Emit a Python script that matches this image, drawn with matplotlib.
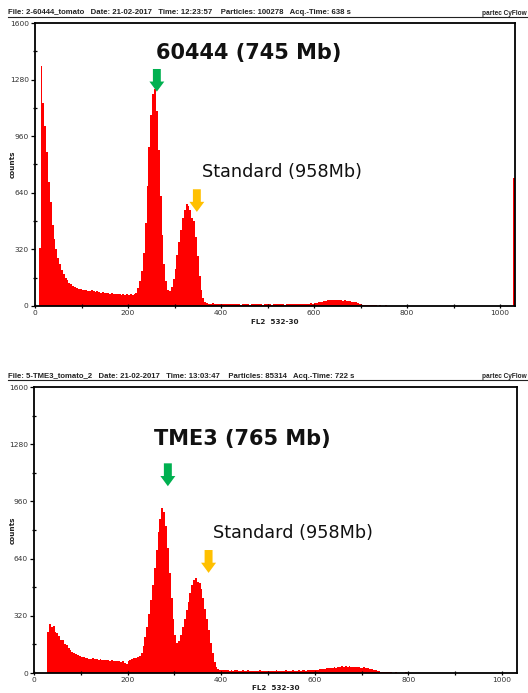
import matplotlib
matplotlib.use("Agg")
import matplotlib.pyplot as plt
from matplotlib.patches import FancyArrow
from matplotlib.lines import Line2D
from matplotlib.ticker import MultipleLocator

# histogram channels, 4 per bin (0..1032)
bin_edges = list(range(0, 1036, 4))

# sample 1: 60444 tomato
top_counts = [
    0, 0, 330, 1357, 1150, 1018, 870, 700, 590, 460, 380, 320, 270, 235, 205, 180,
    160, 145, 132, 122, 115, 108, 102, 98, 95, 90, 88, 92, 85, 84, 88, 82,
    80, 83, 78, 76, 79, 74, 72, 76, 70, 73, 68, 70, 66, 69, 64, 67,
    63, 66, 62, 68, 65, 70, 75, 100, 140, 200, 300, 470, 680, 900, 1080, 1200,
    1225, 1100, 880, 620, 400, 240, 140, 90, 82, 105, 150, 210, 290, 360, 430, 495,
    545, 577, 565, 540, 500, 480, 390, 280, 170, 90, 45, 25, 18, 14, 12, 15,
    11, 13, 10, 12, 14, 9, 11, 12, 10, 13, 9, 11, 10, 12, 8, 11,
    10, 9, 12, 8, 10, 11, 9, 10, 12, 9, 8, 11, 10, 9, 11, 8,
    10, 9, 11, 12, 9, 10, 8, 11, 12, 10, 9, 11, 13, 10, 12, 11,
    13, 12, 14, 12, 15, 13, 16, 18, 20, 22, 25, 28, 30, 32, 34, 33,
    35, 32, 36, 33, 35, 31, 33, 29, 30, 26, 24, 22, 20, 17, 14, 10,
    8, 6, 5, 4, 5, 3, 4, 3, 2, 3, 2, 2, 3, 1, 2, 1,
    2, 1, 1, 0, 1, 0, 0, 0, 0, 0, 0, 0, 0, 0, 0, 0,
    0, 0, 0, 0, 0, 0, 0, 0, 0, 0, 0, 0, 0, 0, 0, 0,
    0, 0, 0, 0, 0, 0, 0, 0, 0, 0, 0, 0, 0, 0, 0, 0,
    0, 0, 0, 0, 0, 0, 0, 0, 0, 0, 0, 0, 0, 0, 0, 0,
    0, 725,
]

# sample 2: TME3 tomato
bottom_counts = [
    0, 0, 0, 0, 0, 0, 0, 231, 274, 259, 262, 232, 222, 205, 187, 185,
    165, 156, 141, 128, 119, 110, 104, 101, 95, 91, 88, 85, 82, 80, 78, 84,
    76, 79, 75, 77, 73, 75, 71, 74, 68, 70, 66, 69, 65, 67, 63, 66,
    58, 52, 68, 74, 80, 86, 84, 90, 95, 110, 150, 200, 260, 330, 410, 490,
    590, 690, 790, 860, 921, 900, 820, 700, 560, 420, 300, 210, 170, 180, 215, 255,
    300, 350, 400, 450, 495, 520, 530, 510, 505, 470, 420, 360, 300, 240, 170, 110,
    60, 35, 22, 18, 15, 17, 14, 16, 13, 15, 12, 14, 16, 13, 12, 15,
    13, 11, 14, 12, 10, 13, 12, 11, 14, 10, 12, 13, 11, 12, 10, 13,
    12, 14, 11, 13, 12, 10, 14, 12, 13, 11, 14, 13, 12, 15, 13, 14,
    15, 13, 16, 14, 17, 15, 18, 16, 20, 22, 21, 25, 27, 26, 30, 28,
    32, 30, 35, 33, 38, 34, 39, 36, 37, 33, 36, 34, 31, 32, 29, 27,
    32, 30, 28, 25, 22, 18, 15, 12, 10, 8, 6, 5, 4, 3, 3, 2,
    2, 3, 1, 2, 1, 2, 3, 1, 2, 1, 1, 2, 1, 0, 2, 1,
    1, 0, 2, 1, 0, 1, 2, 0, 1, 1, 0, 2, 1, 0, 1, 0,
    2, 1, 0, 1, 1, 2, 0, 1, 0, 1, 2, 1, 0, 1, 0, 1,
    1, 0, 2, 1, 0, 1, 1, 0, 2, 1, 0, 1, 0, 1, 2, 1,
    1, 2,
]

headers = [
    "File: 2-60444_tomato   Date: 21-02-2017   Time: 12:23:57    Particles: 100278   Acq.-Time: 638 s",
    "File: 5-TME3_tomato_2   Date: 21-02-2017   Time: 13:03:47    Particles: 85314   Acq.-Time: 722 s",
]
titles = ["60444 (745 Mb)", "TME3 (765 Mb)"]
std_label = "Standard (958Mb)"

# annotation placement (channel, count)
title_pos = [(459, 1430), (446, 1307)]
std_pos = [(530, 759), (553, 785)]
green_arrow = [(262, 1340), (286, 1173)]
orange_arrow = [(348, 660), (373, 688)]

W, H = 528, 693
fig = plt.figure(figsize=(W / 100, H / 100), dpi=100)


def fx(px):
    return px / W


def fy(py):
    return 1 - py / H


# axes boxes in pixels: left, top, right, bottom
boxes = [(35, 23, 515, 306), (34, 387, 517, 673)]
header_y = [(13, 17.3), (376, 379.5)]
xlabel_y = [322, 688]
ylabel_y = [164, 530]

for k, counts in enumerate([top_counts, bottom_counts]):
    l, t, r, b = boxes[k]
    ax = fig.add_axes([fx(l), fy(b), fx(r) - fx(l), fy(t) - fy(b)])
    ax.stairs(counts, bin_edges, fill=True, color="#ff0000", lw=0)
    ax.set_xlim(0, 1032)
    ax.set_ylim(0, 1600)
    ax.yaxis.set_major_locator(MultipleLocator(320))
    ax.yaxis.set_minor_locator(MultipleLocator(160))
    ax.xaxis.set_major_locator(MultipleLocator(200))
    ax.xaxis.set_minor_locator(MultipleLocator(100))
    ax.tick_params(which="both", labelsize=5.4, labelcolor="#333333", width=0.9, pad=1.5)
    ax.tick_params(axis="y", which="major", direction="out", length=3)
    ax.tick_params(axis="y", which="minor", direction="inout", length=3)
    ax.tick_params(axis="x", which="both", direction="inout", length=3)
    for s in ax.spines.values():
        s.set_linewidth(1.3)
        s.set_zorder(5)

    fig.text(fx(l + (r - l) / 2), fy(xlabel_y[k]), "FL2  532-30", ha="center", va="center",
             fontsize=5.2, fontweight="bold", color="#222222")
    fig.text(fx(13), fy(ylabel_y[k]), "counts", rotation=90, ha="center", va="center",
             fontsize=5.2, fontweight="bold", color="#222222")

    # header line
    hy, ly = header_y[k]
    fig.text(fx(8), fy(hy), headers[k], ha="left", va="center", fontsize=5.6,
             fontweight="bold", family="Liberation Sans", color="#222222")
    fig.text(fx(482), fy(hy + 0.5), "partec CyFlow", ha="left", va="center", fontsize=4.7,
             fontweight="bold", family="Liberation Sans", color="#222222")
    fig.add_artist(Line2D([fx(8), 1], [fy(ly), fy(ly)], transform=fig.transFigure,
                          color="#222222", lw=0.8))

    # annotations
    ax.text(*title_pos[k], titles[k], ha="center", va="center", fontsize=15,
            fontweight="bold", color="#111111")
    ax.text(*std_pos[k], std_label, ha="center", va="center", fontsize=12.7, color="#111111")
    for (ax_x, ax_y), col in [(green_arrow[k], "#00b050"), (orange_arrow[k], "#ffc000")]:
        ax.add_patch(FancyArrow(ax_x, ax_y, 0, -128, width=17, head_width=32, head_length=57,
                                length_includes_head=True, color=col, lw=0, zorder=4))

fig.savefig("out.png", dpi=100)
